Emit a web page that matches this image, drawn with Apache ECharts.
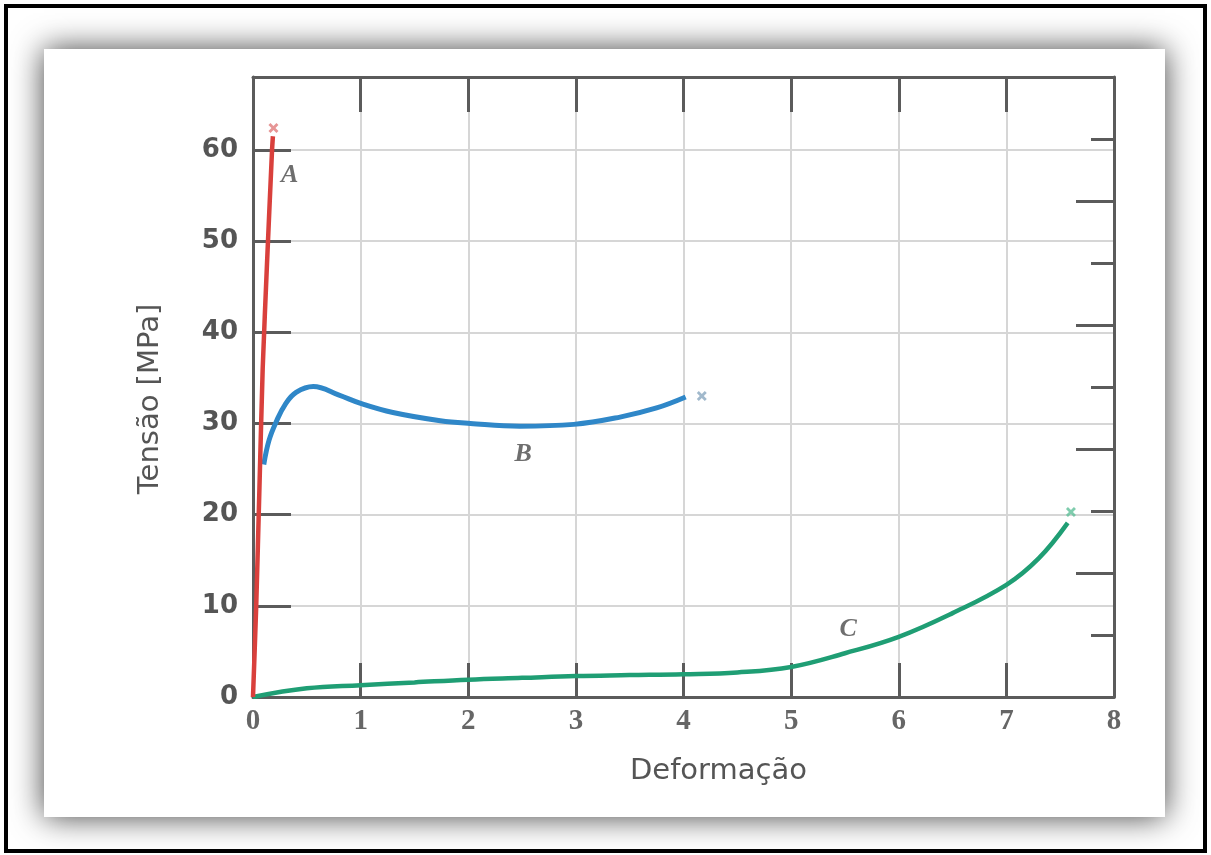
<!DOCTYPE html>
<html>
<head>
<meta charset="utf-8">
<script src="https://cdn.jsdelivr.net/npm/echarts@6/dist/echarts.min.js"></script>
<style>
html,body{margin:0;padding:0;background:#fff;}
#chart{width:1211px;height:855px;}
</style>
</head>
<body>
<div id="chart"></div>
<script>
// Data
var xTicks = [0, 1, 2, 3, 4, 5, 6, 7, 8];
var yTicks = [0, 10, 20, 30, 40, 50, 60];
var ksiMajor = [2, 4, 6, 8];
var ksiMinor = [1, 3, 5, 7, 9];
var curveA = [[0, 0], [0.03, 10], [0.06, 23], [0.09, 36], [0.13, 47.5], [0.177, 60], [0.185, 61.5]];
var curveB = [[0.1, 25.5], [0.15, 28.2], [0.22, 30.3], [0.3, 32.1], [0.4, 33.4], [0.56, 34.05], [0.8, 33.1], [1.0, 32.2], [1.3, 31.2], [1.74, 30.3], [2.02, 30.0], [2.48, 29.7], [2.98, 29.9], [3.41, 30.7], [3.75, 31.7], [4.02, 32.9]];
var curveC = [[0, 0], [0.5, 0.95], [1.0, 1.3], [1.5, 1.6], [2.0, 1.9], [2.5, 2.1], [3.0, 2.3], [3.5, 2.4], [4.0, 2.5], [4.5, 2.7], [5.0, 3.3], [5.5, 4.8], [6.0, 6.6], [6.5, 9.2], [7.0, 12.3], [7.3, 15.2], [7.57, 19.1]];
var breakPoints = [[0.19, 62.4], [4.17, 33.0], [7.6, 20.3]];
var curveNames = ['A', 'B', 'C'];
var namePoints = [[0.34, 57.2], [2.51, 26.6], [5.53, 7.4]];
var xName = 'Deformação';
var yName = 'Tensão [MPa]';

var Y_MAX = 68;
var KSI = 6.8;
var axisCol = '#5b5b5b';
var gridCol = '#d6d6d6';
var crossPath = 'path://M0,2L2,0L5,3L8,0L10,2L7,5L10,8L8,10L5,7L2,10L0,8L3,5Z';
var markerCols = ['#e07b7b', '#8aa7bf', '#5fbf98'];
var gridRect = { left: 253, right: 97, top: 77, bottom: 158, containLabel: false };

var chart = echarts.init(document.getElementById('chart'));
chart.setOption({
  animation: false,
  backgroundColor: '#fff',
  graphic: {
    elements: [
      { type: 'rect', z: -100, shape: { x: 44, y: 49, width: 1121, height: 768 },
        style: { fill: '#fff', shadowBlur: 30, shadowColor: 'rgba(0,0,0,0.75)' } },
      { type: 'rect', z: -99, shape: { x: 6, y: 6, width: 1199, height: 845 },
        style: { fill: 'none', stroke: '#000', lineWidth: 4 } }
    ]
  },
  grid: [gridRect, Object.assign({}, gridRect)],
  xAxis: [
    {
      type: 'value', gridIndex: 0, min: 0, max: 8, interval: 1, position: 'bottom',
      name: xName, nameLocation: 'middle', nameGap: 60,
      nameTextStyle: { fontFamily: 'DejaVu Sans', fontSize: 29, color: '#555', padding: [0, 0, 0, 70] },
      axisLine: { show: true, onZero: false, lineStyle: { color: axisCol, width: 3 } },
      axisTick: { show: true, inside: true, length: 34, lineStyle: { color: axisCol, width: 3 } },
      axisLabel: { show: true, margin: 10, fontFamily: 'Liberation Serif', fontWeight: 'bold', fontSize: 29, color: '#666',
        formatter: function (v) { return xTicks.indexOf(v) >= 0 ? String(v) : ''; } },
      splitLine: { show: true, lineStyle: { color: gridCol, width: 2 } }
    },
    {
      type: 'value', gridIndex: 0, min: 0, max: 8, interval: 1, position: 'top',
      axisLine: { show: true, onZero: false, lineStyle: { color: axisCol, width: 3 } },
      axisTick: { show: true, inside: true, length: 35, lineStyle: { color: axisCol, width: 3 } },
      axisLabel: { show: false },
      splitLine: { show: false }
    },
    {
      type: 'value', gridIndex: 1, min: 0, max: 8, position: 'bottom',
      axisLine: { show: false, onZero: false }, axisTick: { show: false },
      axisLabel: { show: false }, splitLine: { show: false }
    }
  ],
  yAxis: [
    {
      type: 'value', gridIndex: 0, min: 0, max: Y_MAX, interval: 10, position: 'left',
      name: yName, nameLocation: 'middle', nameGap: 88, nameRotate: 90,
      nameTextStyle: { fontFamily: 'DejaVu Sans', fontSize: 29, color: '#555', padding: [0, 24, 0, 0] },
      axisLine: { show: true, onZero: false, lineStyle: { color: axisCol, width: 3 } },
      axisTick: { show: true, inside: true, length: 38, lineStyle: { color: axisCol, width: 3 } },
      axisLabel: { show: true, margin: 15, fontFamily: 'DejaVu Sans', fontWeight: 'bold', fontSize: 26, color: '#555',
        formatter: function (v) { return yTicks.indexOf(v) >= 0 ? String(v) : ''; } },
      splitLine: { show: true, lineStyle: { color: gridCol, width: 2 } }
    },
    {
      type: 'value', gridIndex: 0, min: 0, max: Y_MAX / KSI, position: 'right',
      axisLine: { show: true, onZero: false, lineStyle: { color: axisCol, width: 3 } },
      axisTick: { show: true, inside: true, length: 38, customValues: ksiMajor, lineStyle: { color: axisCol, width: 3 } },
      axisLabel: { show: false },
      splitLine: { show: false }
    },
    {
      type: 'value', gridIndex: 1, min: 0, max: Y_MAX / KSI, position: 'right',
      axisLine: { show: false, onZero: false },
      axisTick: { show: true, inside: true, length: 23, customValues: ksiMinor, lineStyle: { color: axisCol, width: 3 } },
      axisLabel: { show: false },
      splitLine: { show: false }
    }
  ],
  series: [
    { type: 'line', name: 'B', data: curveB, smooth: 0.4, showSymbol: false, symbol: 'none',
      lineStyle: { color: '#2f87c8', width: 5 }, z: 3 },
    { type: 'line', name: 'C', data: curveC, smooth: 0.4, showSymbol: false, symbol: 'none',
      lineStyle: { color: '#1f9e74', width: 4.5 }, z: 3 },
    { type: 'line', name: 'A', data: curveA, smooth: 0.2, showSymbol: false, symbol: 'none',
      lineStyle: { color: '#d9403c', width: 4.5 }, z: 4 },
    { type: 'scatter', name: 'rupture', symbol: crossPath, symbolSize: 10, z: 5,
      data: breakPoints.map(function (p, i) { return { value: p, itemStyle: { color: markerCols[i] } }; }) },
    { type: 'scatter', name: 'labels', symbolSize: 0, z: 5,
      data: namePoints.map(function (p, i) { return { value: p, name: curveNames[i] }; }),
      label: { show: true, position: 'inside', formatter: function (d) { return d.name; },
        fontFamily: 'Liberation Serif', fontStyle: 'italic', fontWeight: 'bold', fontSize: 26, color: '#4a4a4a' } }
  ]
});
</script>
</body>
</html>
